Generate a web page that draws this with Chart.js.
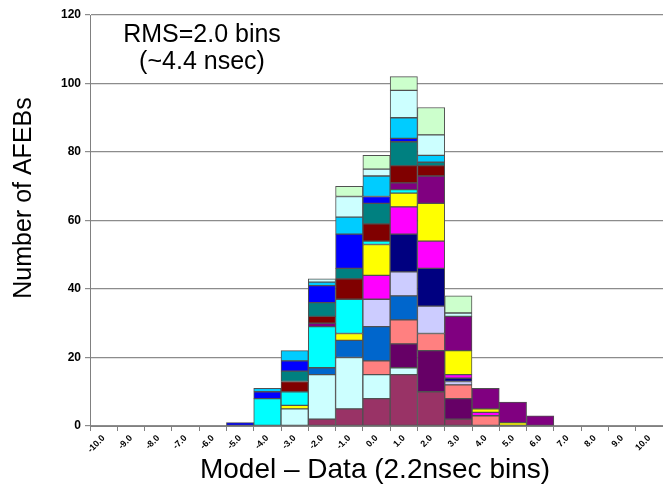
<!DOCTYPE html>
<html>
<head>
<meta charset="UTF-8">
<title>Model - Data histogram</title>
<style>
  html, body { margin: 0; padding: 0; background: #fff; }
  #wrap { width: 663px; height: 492px; }
</style>
<script src="https://cdn.jsdelivr.net/npm/chart.js@4/dist/chart.umd.min.js"></script>
</head>
<body>
<div id="wrap"><canvas id="histChart" width="663" height="492"></canvas></div>
<script>
// bins: -10.0 ... 10.0
const bins = ['-10.0','-9.0','-8.0','-7.0','-6.0','-5.0','-4.0','-3.0','-2.0','-1.0','0.0','1.0','2.0','3.0','4.0','5.0','6.0','7.0','8.0','9.0','10.0'];
const yTicks = [0, 20, 40, 60, 80, 100, 120];

// one list per stacked series (bottom to top), counts per bin
//                 -10 -9 -8 -7 -6 -5 -4 -3 -2 -1  0  1  2  3  4  5  6  7  8  9 10
const plum       = [0, 0, 0, 0, 0, 0, 0, 0, 2, 5, 8,15,10, 2, 0, 0, 0, 0, 0, 0, 0];
const lightCyanA = [0, 0, 0, 0, 0, 0, 0, 5,13,15, 7, 2, 0, 0, 0, 0, 0, 0, 0, 0, 0];
const darkPurple = [0, 0, 0, 0, 0, 0, 0, 0, 0, 0, 0, 7,12, 6, 0, 0, 0, 0, 0, 0, 0];
const salmon     = [0, 0, 0, 0, 0, 0, 0, 0, 0, 0, 4, 7, 5, 4, 3, 0, 0, 0, 0, 0, 0];
const midBlue    = [0, 0, 0, 0, 0, 0, 0, 0, 2, 5,10, 7, 0, 0, 0, 0, 0, 0, 0, 0, 0];
const lavender   = [0, 0, 0, 0, 0, 0, 0, 0, 0, 0, 8, 7, 8, 1, 0, 0, 0, 0, 0, 0, 0];
const navy       = [0, 0, 0, 0, 0, 0, 0, 0, 0, 0, 0,11,11, 1, 0, 0, 0, 0, 0, 0, 0];
const magenta    = [0, 0, 0, 0, 0, 0, 0, 0, 0, 0, 7, 8, 8, 1, 1, 0, 0, 0, 0, 0, 0];
const yellow     = [0, 0, 0, 0, 0, 0, 0, 1, 0, 2, 9, 4,11, 7, 1, 1, 0, 0, 0, 0, 0];
const cyan       = [0, 0, 0, 0, 0, 0, 8, 4,12,10, 1, 1, 0, 0, 0, 0, 0, 0, 0, 0, 0];
const purple     = [0, 0, 0, 0, 0, 0, 0, 0, 1, 0, 0, 2, 8,10, 6, 6, 3, 0, 0, 0, 0];
const darkRed    = [0, 0, 0, 0, 0, 0, 0, 3, 2, 6, 5, 5, 3, 0, 0, 0, 0, 0, 0, 0, 0];
const teal       = [0, 0, 0, 0, 0, 0, 0, 3, 4, 3, 6, 7, 1, 0, 0, 0, 0, 0, 0, 0, 0];
const blue       = [0, 0, 0, 0, 0, 1, 2, 3, 5,10, 2, 1, 0, 0, 0, 0, 0, 0, 0, 0, 0];
const skyBlue    = [0, 0, 0, 0, 0, 0, 1, 3, 1, 5, 6, 6, 2, 0, 0, 0, 0, 0, 0, 0, 0];
const lightCyanB = [0, 0, 0, 0, 0, 0, 0, 0, 1, 6, 2, 8, 6, 1, 0, 0, 0, 0, 0, 0, 0];
const lightGreen = [0, 0, 0, 0, 0, 0, 0, 0, 0, 3, 4, 4, 8, 5, 0, 0, 0, 0, 0, 0, 0];

const series = [
  [plum, '#993366'], [lightCyanA, '#CCFFFF'], [darkPurple, '#660066'], [salmon, '#FF8080'],
  [midBlue, '#0066CC'], [lavender, '#CCCCFF'], [navy, '#000080'], [magenta, '#FF00FF'],
  [yellow, '#FFFF00'], [cyan, '#00FFFF'], [purple, '#800080'], [darkRed, '#800000'],
  [teal, '#008080'], [blue, '#0000FF'], [skyBlue, '#00CCFF'], [lightCyanB, '#CCFFFF'],
  [lightGreen, '#CCFFCC']
];

const FONT = "'Liberation Sans', Arial, sans-serif";

// axis titles and the RMS note
const textPlugin = {
  id: 'texts',
  afterDraw(chart) {
    const ctx = chart.ctx;
    ctx.save();
    ctx.fillStyle = '#000';
    ctx.textAlign = 'center';
    ctx.textBaseline = 'middle';
    ctx.font = '25px ' + FONT;
    ctx.fillText('RMS=2.0 bins', 202, 35);
    ctx.fillText('(~4.4 nsec)', 202, 62);
    ctx.font = '28px ' + FONT;
    ctx.fillText('Model \u2013 Data (2.2nsec bins)', 375, 470);
    ctx.translate(24, 198);
    ctx.rotate(-Math.PI / 2);
    ctx.font = '25px ' + FONT;
    ctx.fillText('Number of AFEBs', 0, 0);
    ctx.restore();
  }
};

new Chart(document.getElementById('histChart'), {
  type: 'bar',
  data: {
    labels: bins,
    datasets: series.map(([vals, col]) => ({
      data: vals.map(v => v === 0 ? null : v),
      backgroundColor: col,
      borderColor: '#505050',
      borderWidth: 1,
      borderSkipped: false,
      categoryPercentage: 1.0,
      barPercentage: 1.0
    }))
  },
  options: {
    responsive: false,
    animation: false,
    layout: { padding: { top: 15, right: 0, left: 0, bottom: 0 } },
    plugins: { legend: { display: false }, tooltip: { enabled: false } },
    scales: {
      x: {
        stacked: true,
        afterFit(s) { s.height = 66; },
        grid: { display: true, drawOnChartArea: false, drawTicks: true, tickLength: 5, color: '#808080' },
        border: { color: '#808080', width: 1 },
        ticks: { minRotation: 45, maxRotation: 45, autoSkip: false, color: '#000',
                 font: { family: FONT, size: 9, weight: 'bold' }, padding: 2 }
      },
      y: {
        stacked: true,
        min: 0, max: 120,
        afterFit(s) { s.width = 90; },
        afterBuildTicks(s) { s.ticks = yTicks.map(v => ({ value: v })); },
        grid: { color: '#8c8c8c', lineWidth: 1.2, tickLength: 5 },
        border: { color: '#808080', width: 1 },
        ticks: { color: '#000', font: { family: FONT, size: 12, weight: 'bold' }, padding: 4 }
      }
    }
  },
  plugins: [textPlugin]
});
</script>
</body>
</html>
